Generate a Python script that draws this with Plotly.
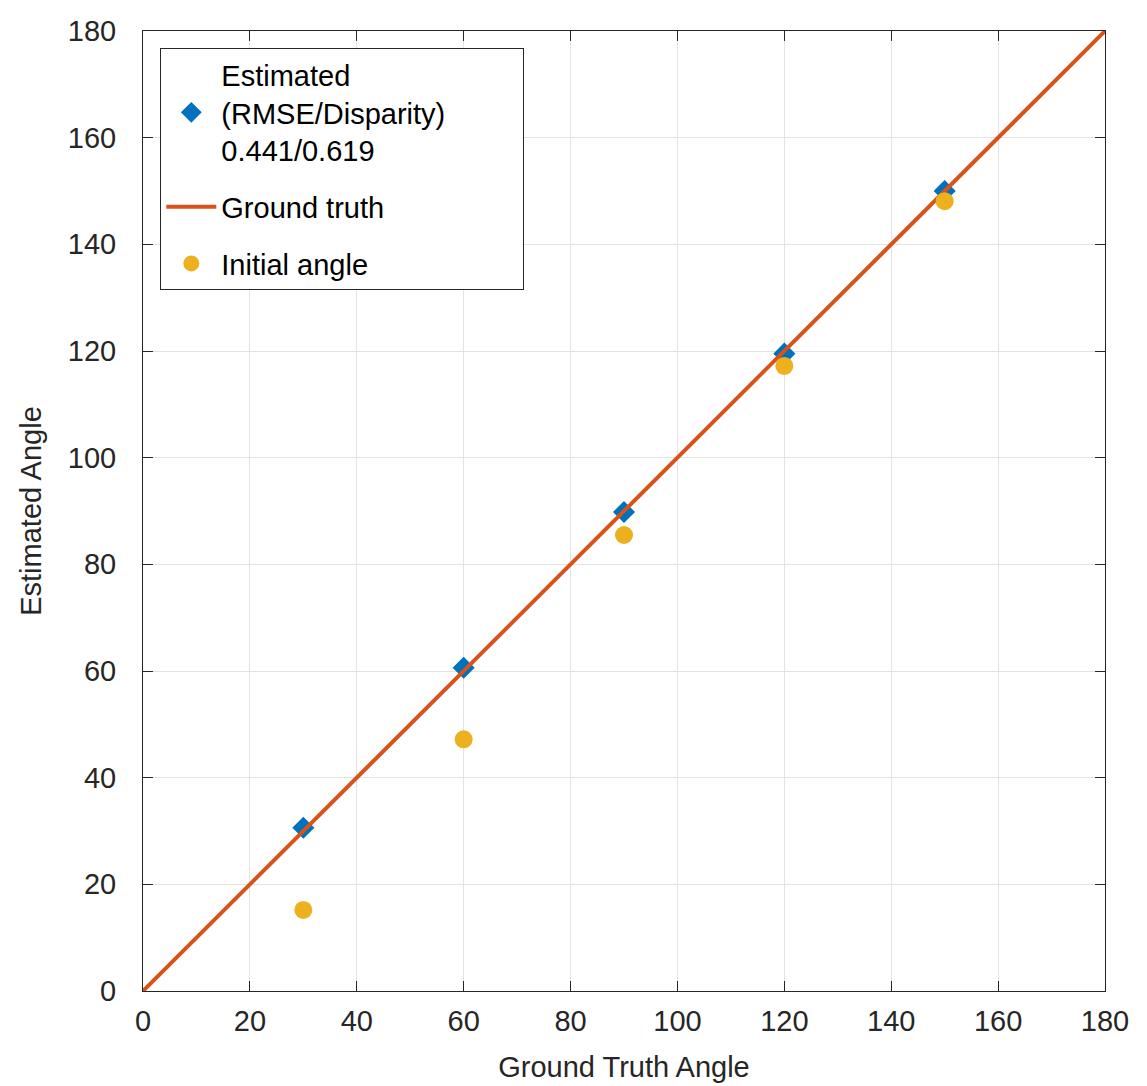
import plotly.graph_objects as go

gt_angles = [30, 60, 90, 120, 150]
estimated = [30.6, 60.6, 89.8, 119.5, 150.0]
initial = [15.2, 47.2, 85.5, 117.2, 148.1]
line_x = [0, 180]
line_y = [0, 180]
ticks = [0, 20, 40, 60, 80, 100, 120, 140, 160, 180]

FONT = "Liberation Sans, Arial, Helvetica, sans-serif"
TXT = "#262626"
FS = 29
PAD = "&nbsp;" * 9

fig = go.Figure()
fig.add_trace(go.Scatter(
    x=gt_angles, y=estimated, mode="markers",
    name="Estimated<br>(RMSE/Disparity)" + PAD + "<br>0.441/0.619",
    marker=dict(symbol="diamond", size=17, color="#0072BD"),
    legendgroup="a",
))
fig.add_trace(go.Scatter(
    x=line_x, y=line_y, mode="lines", name="Ground truth",
    line=dict(color="#D95319", width=4),
    legendgroup="b",
))
fig.add_trace(go.Scatter(
    x=gt_angles, y=initial, mode="markers", name="Initial angle",
    marker=dict(symbol="circle", size=18, color="#EDB120"),
    legendgroup="c",
))

axis_common = dict(
    range=[0, 180], tickvals=ticks, ticktext=[str(t) for t in ticks],
    showgrid=True, gridcolor="#e3e3e3", gridwidth=1,
    showline=True, linecolor=TXT, linewidth=1, mirror="ticks",
    ticks="inside", ticklen=10, tickcolor=TXT, tickwidth=1,
    zeroline=False, automargin=False,
    tickfont=dict(family=FONT, size=FS, color=TXT),
    title_font=dict(family=FONT, size=FS, color=TXT),
)

fig.update_layout(
    width=1147, height=1086,
    margin=dict(l=135, r=50, t=23, b=103),
    paper_bgcolor="white", plot_bgcolor="white",
    font=dict(family=FONT, size=FS, color=TXT),
    xaxis=dict(title=dict(text="Ground Truth Angle", standoff=20),
               ticklabelstandoff=4, **axis_common),
    yaxis=dict(title=dict(text="Estimated Angle", standoff=17),
               ticklabelstandoff=20, **axis_common),
    showlegend=True,
    legend=dict(
        x=0.018, y=0.982, xanchor="left", yanchor="top",
        bgcolor="white", bordercolor=TXT, borderwidth=1,
        font=dict(family=FONT, size=FS, color="#000000"),
        itemwidth=50, traceorder="grouped", tracegroupgap=16,
        valign="middle",
    ),
)

fig.write_html("out.html")
